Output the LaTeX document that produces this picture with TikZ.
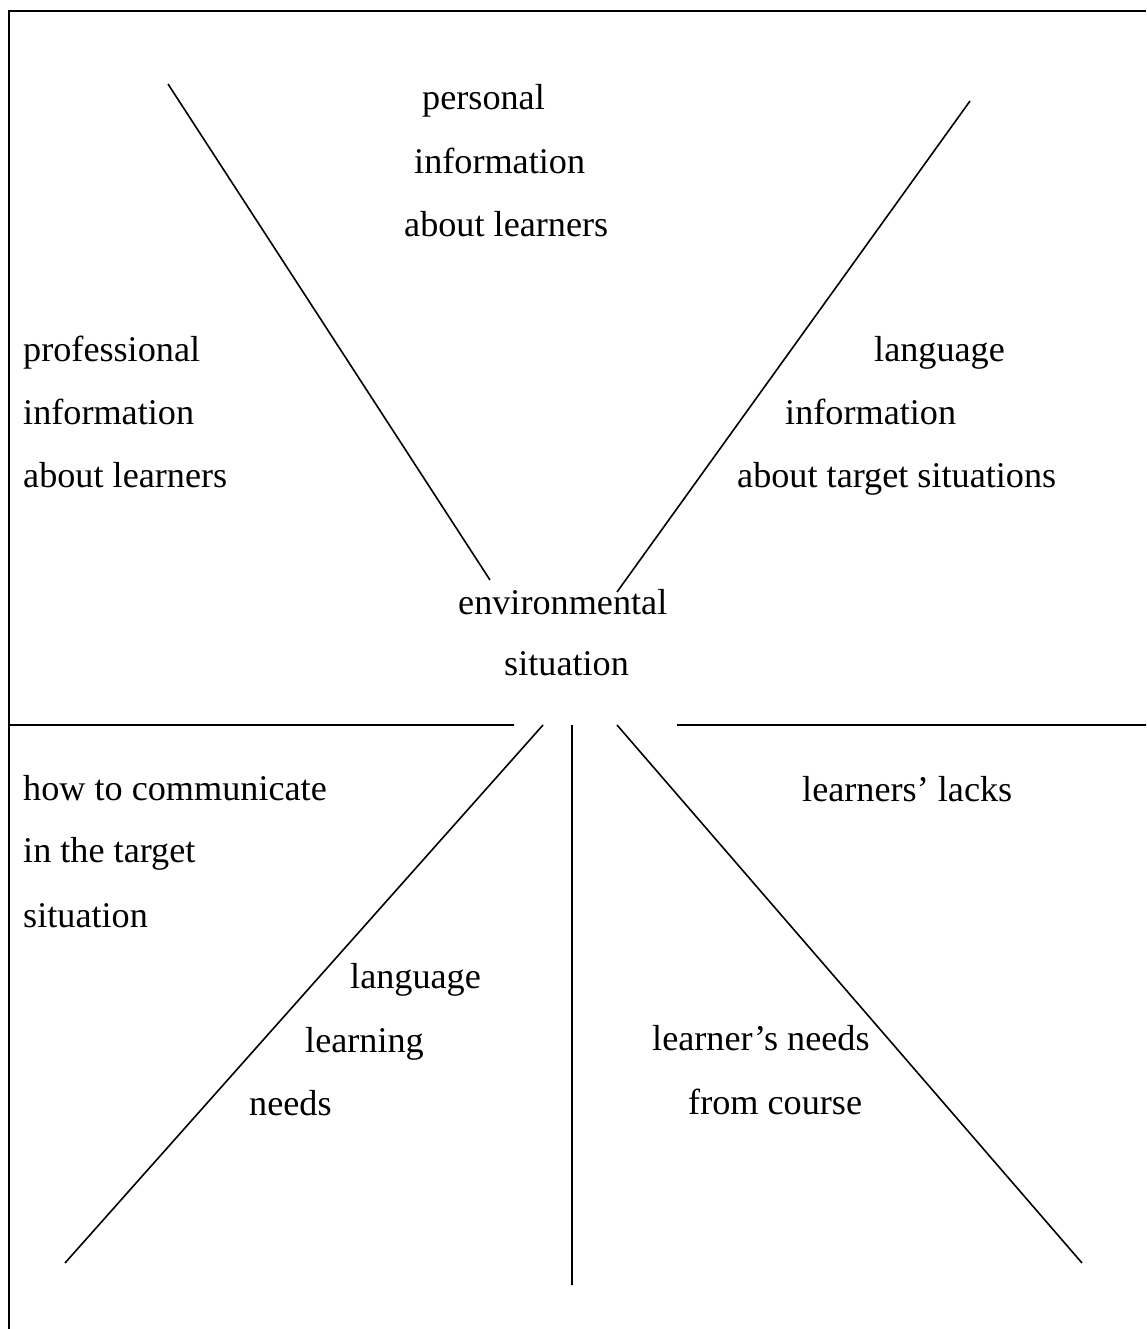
\documentclass[tikz,border=0pt]{standalone}
\usepackage{fontspec}
\setmainfont{Liberation Serif}
\usepackage{tikz}

\tikzset{
    txt/.style={anchor=base west, inner sep=0pt, yshift=-2pt, font=\fontsize{36.2}{40}\selectfont},
    ray/.style={line width=1.6pt},
    frame/.style={line width=2pt},
}

\begin{document}
\begin{tikzpicture} [ x=1pt, y=-1pt, ]
    \useasboundingbox (0,0) rectangle (1146,1329);

    % frame (top and left only)
    \coordinate (fbl) at (9,1329);
    \coordinate (ftl) at (9,11);
    \coordinate (ftr) at (1146,11);
    \draw[frame] (fbl) -- (ftl) -- (ftr);

    % end points of the rays
    \coordinate (ul1) at (168,84);   \coordinate (ul2) at (490,580);
    \coordinate (ur1) at (970,101);  \coordinate (ur2) at (617,592);
    \coordinate (hl1) at (9,725);    \coordinate (hl2) at (514,725);
    \coordinate (hr1) at (677,725);  \coordinate (hr2) at (1146,725);
    \coordinate (ll1) at (543,725);  \coordinate (ll2) at (65,1263);
    \coordinate (vc1) at (572,725);  \coordinate (vc2) at (572,1285);
    \coordinate (lr1) at (617,725);  \coordinate (lr2) at (1082,1263);

    \draw[ray] (ul1) -- (ul2)
    (ur1) -- (ur2)
    (hl1) -- (hl2)
    (hr1) -- (hr2)
    (ll1) -- (ll2)
    (vc1) -- (vc2)
    (lr1) -- (lr2)
    ;

    % top
    \node[txt] (pers1) at (422,108) {personal};
    \node[txt] (pers2) at (414,172) {information};
    \node[txt] (pers3) at (404,235) {about learners};

    % left
    \node[txt] (prof1) at (23,359) {professional};
    \node[txt] (prof2) at (23,422) {information};
    \node[txt] (prof3) at (23,485) {about learners};

    % right
    \node[txt] (lang1) at (874,359) {language};
    \node[txt] (lang2) at (785,422) {information};
    \node[txt] (lang3) at (737,485) {about target situations};

    % centre
    \node[txt] (env1) at (458,612) {environmental};
    \node[txt] (env2) at (504,673) {situation};

    % lower left
    \node[txt] (comm1) at (23,798) {how to communicate};
    \node[txt] (comm2) at (23,860) {in the target};
    \node[txt] (comm3) at (23,925) {situation};

    \node[txt] (need1) at (350,986) {language};
    \node[txt] (need2) at (305,1050) {learning};
    \node[txt] (need3) at (249,1113) {needs};

    % lower right
    \node[txt] (lack1) at (802,799) {learners’ lacks};
    \node[txt] (crs1) at (652,1048) {learner’s needs};
    \node[txt] (crs2) at (688,1112) {from course};

\end{tikzpicture}
\end{document}
